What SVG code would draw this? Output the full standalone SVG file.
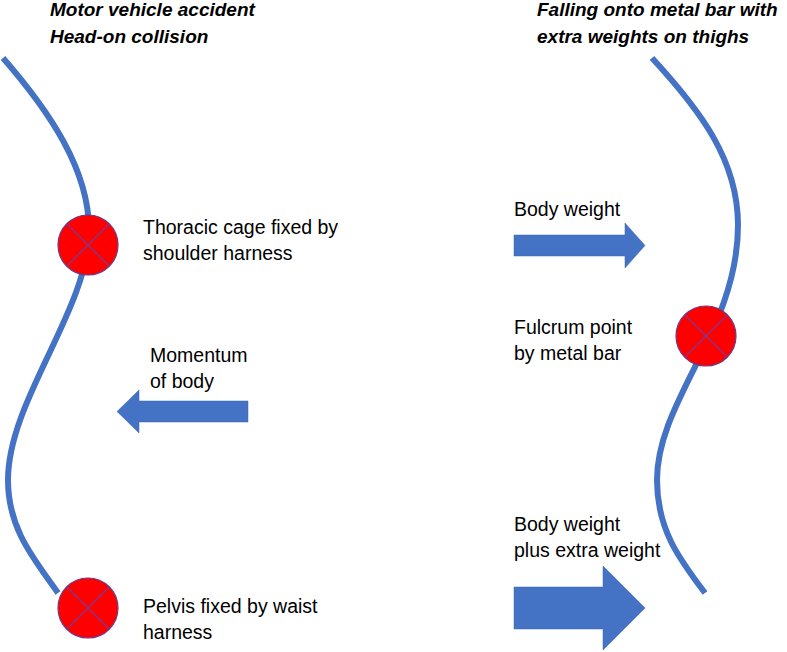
<svg xmlns="http://www.w3.org/2000/svg" width="787" height="652" viewBox="0 0 787 652">
  <style>
    .title { font-family: "Liberation Sans", Arial, sans-serif; font-size: 19px; font-weight: bold; font-style: italic; fill: #000; }
    .label { font-family: "Liberation Sans", Arial, sans-serif; font-size: 19.5px; fill: #000; }
    .spine { fill: none; stroke: #4472C4; stroke-width: 6; }
    .arrow { fill: #4472C4; stroke: #3a64b0; stroke-width: 0.5; }
    .pin { fill: #FF0000; stroke: #6F3A86; stroke-width: 1.2; }
    .cross { stroke: #9B2D6E; stroke-width: 1.8; }
  </style>
  <rect width="787" height="652" fill="#FFFFFF"/>

  <g id="titles">
    <text class="title" x="50" y="16">Motor vehicle accident</text>
    <text class="title" x="50" y="43">Head-on collision</text>
    <text class="title" x="537" y="16">Falling onto metal bar with</text>
    <text class="title" x="537" y="43">extra weights on thighs</text>
  </g>

  <g id="connectors">
    <path class="spine" d="M3,58 C50,112 89,170 89,230 C89,310 8,400 8,480 C8,530 35,560 58,593"/>
    <path class="spine" d="M652,58 C700,110 738,160 738,225 C738,330 657,400 657,480 C657,530 680,560 705,593"/>
  </g>

  <g id="arrow-momentum">
    <polygon class="arrow" points="248,401 139,401 139,390 117,411.5 139,433 139,422 248,422"/>
    <text class="label" x="150" y="362">Momentum</text>
    <text class="label" x="150" y="388">of body</text>
  </g>

  <g id="arrow-body-weight">
    <polygon class="arrow" points="514,235 625,235 625,223 645,245.5 625,268 625,256 514,256"/>
    <text class="label" x="514" y="216">Body weight</text>
  </g>

  <g id="arrow-extra-weight">
    <polygon class="arrow" points="514,587 603,587 603,566 645,608 603,650 603,629 514,629"/>
    <text class="label" x="514" y="531">Body weight</text>
    <text class="label" x="514" y="557">plus extra weight</text>
  </g>

  <g id="node-thoracic">
    <circle class="pin" cx="88" cy="245" r="30"/>
    <line class="cross" x1="66.8" y1="223.8" x2="109.2" y2="266.2"/>
    <line class="cross" x1="109.2" y1="223.8" x2="66.8" y2="266.2"/>
    <text class="label" x="143" y="234">Thoracic cage fixed by</text>
    <text class="label" x="143" y="260">shoulder harness</text>
  </g>

  <g id="node-pelvis">
    <circle class="pin" cx="88" cy="608" r="30"/>
    <line class="cross" x1="66.8" y1="586.8" x2="109.2" y2="629.2"/>
    <line class="cross" x1="109.2" y1="586.8" x2="66.8" y2="629.2"/>
    <text class="label" x="143" y="613">Pelvis fixed by waist</text>
    <text class="label" x="143" y="639">harness</text>
  </g>

  <g id="node-fulcrum">
    <circle class="pin" cx="706" cy="336" r="30"/>
    <line class="cross" x1="684.8" y1="314.8" x2="727.2" y2="357.2"/>
    <line class="cross" x1="727.2" y1="314.8" x2="684.8" y2="357.2"/>
    <text class="label" x="514" y="334">Fulcrum point</text>
    <text class="label" x="514" y="360">by metal bar</text>
  </g>
</svg>
